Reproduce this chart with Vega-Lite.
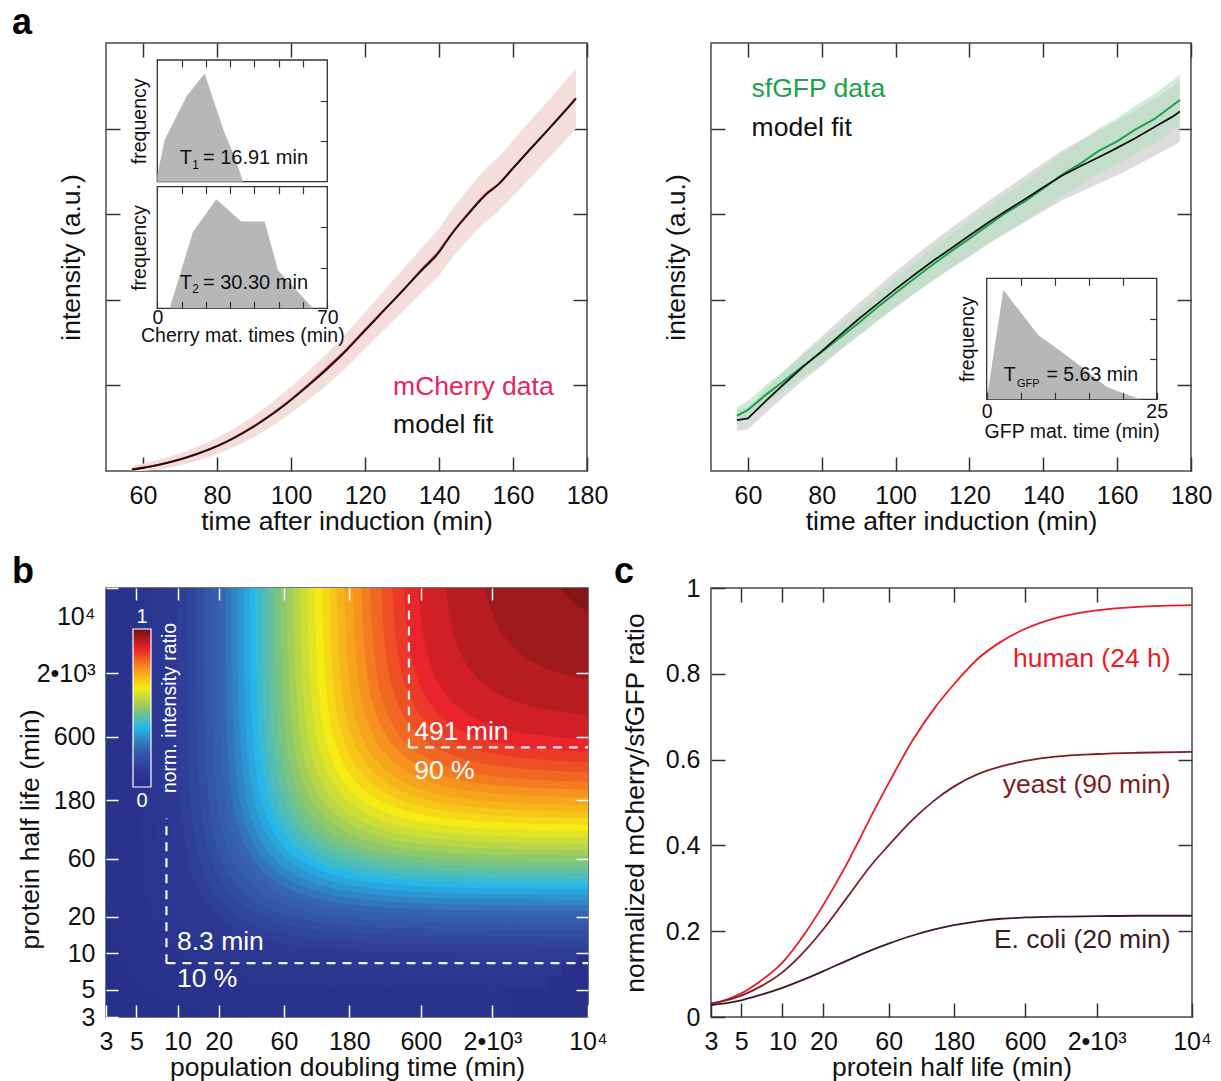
{
"$schema": "https://vega.github.io/schema/vega-lite/v6.json",
"background": "white",
"padding": {"left": 11, "top": 4, "right": 0, "bottom": 0},
"config": {
  "font": "Liberation Sans",
  "view": {"stroke": "#4a4a4a", "strokeWidth": 1.5},
  "title": {"font": "Liberation Sans", "fontSize": 36, "fontWeight": "bold", "anchor": "start", "frame": "group", "baseline": "alphabetic", "color": "#000000"},
  "axis": {"labelFont": "Liberation Sans", "titleFont": "Liberation Sans", "labelFontSize": 25, "titleFontSize": 26.5, "titleFontWeight": "normal", "labelColor": "#111111", "titleColor": "#111111", "tickColor": "#333333", "tickWidth": 1.5, "tickSize": -14, "grid": false, "domain": false, "labelPadding": 26, "titlePadding": 0, "labelFlush": false, "labelOverlap": false},
  "text": {"font": "Liberation Sans"}
},
"datasets": {
  "mch": [
    {"t":57,"m":0.3,"d":0.4,"lo":0,"hi":1.1},
    {"t":60,"m":0.7,"d":0.8,"lo":0,"hi":1.7},
    {"t":65,"m":1.6,"d":1.6,"lo":0.4,"hi":2.8},
    {"t":70,"m":2.7,"d":2.7,"lo":1.3,"hi":4.1},
    {"t":75,"m":4.1,"d":4.1,"lo":2.5,"hi":5.7},
    {"t":80,"m":5.8,"d":5.8,"lo":3.9,"hi":7.7},
    {"t":85,"m":7.9,"d":8.0,"lo":5.7,"hi":10.1},
    {"t":90,"m":10.4,"d":10.5,"lo":7.9,"hi":12.9},
    {"t":95,"m":13.3,"d":13.4,"lo":10.5,"hi":16.1},
    {"t":100,"m":16.6,"d":16.7,"lo":13.5,"hi":19.7},
    {"t":105,"m":20.2,"d":20.4,"lo":16.8,"hi":23.6},
    {"t":110,"m":24.0,"d":24.3,"lo":20.3,"hi":27.7},
    {"t":115,"m":28.2,"d":28.4,"lo":24.2,"hi":32.2},
    {"t":120,"m":32.8,"d":33.0,"lo":28.5,"hi":37.1},
    {"t":125,"m":37.4,"d":37.5,"lo":32.8,"hi":42.0},
    {"t":130,"m":42.0,"d":41.9,"lo":37.1,"hi":46.9},
    {"t":135,"m":46.6,"d":46.8,"lo":41.4,"hi":51.8},
    {"t":140,"m":51.1,"d":51.4,"lo":45.6,"hi":56.6},
    {"t":142,"m":53.6,"d":53.8,"lo":48.0,"hi":59.2},
    {"t":144,"m":56.0,"d":56.1,"lo":50.3,"hi":61.7},
    {"t":148,"m":60.1,"d":60.3,"lo":54.2,"hi":66.0},
    {"t":150,"m":62.1,"d":62.3,"lo":56.1,"hi":68.1},
    {"t":153,"m":64.8,"d":65.0,"lo":58.6,"hi":71.0},
    {"t":156,"m":66.9,"d":67.0,"lo":60.6,"hi":73.2},
    {"t":160,"m":70.7,"d":70.8,"lo":64.2,"hi":77.2},
    {"t":165,"m":75.5,"d":75.6,"lo":68.8,"hi":82.2},
    {"t":170,"m":80.2,"d":80.3,"lo":73.4,"hi":87.0},
    {"t":175,"m":85.0,"d":85.1,"lo":78.0,"hi":92.0},
    {"t":177,"m":87.0,"d":87.1,"lo":80.0,"hi":94.0}
  ],
  "gfp": [
    {"t":57,"m":11.9,"g":12.9,"ml":9.4,"mh":14.4,"gl":10.9,"gh":14.9},
    {"t":60,"m":12.3,"g":14.3,"ml":9.7,"mh":14.9,"gl":12.2,"gh":16.4},
    {"t":65,"m":16.5,"g":17.9,"ml":13.7,"mh":19.3,"gl":15.6,"gh":20.2},
    {"t":70,"m":20.5,"g":21.2,"ml":17.5,"mh":23.5,"gl":18.8,"gh":23.6},
    {"t":75,"m":24.4,"g":24.6,"ml":21.2,"mh":27.6,"gl":22.0,"gh":27.2},
    {"t":80,"m":28.0,"g":27.8,"ml":24.6,"mh":31.4,"gl":25.0,"gh":30.6},
    {"t":85,"m":31.8,"g":31.2,"ml":28.2,"mh":35.4,"gl":28.3,"gh":34.1},
    {"t":90,"m":35.5,"g":34.6,"ml":31.8,"mh":39.2,"gl":31.5,"gh":37.7},
    {"t":95,"m":39.0,"g":38.2,"ml":35.1,"mh":42.9,"gl":34.9,"gh":41.5},
    {"t":100,"m":42.5,"g":41.6,"ml":38.4,"mh":46.6,"gl":38.2,"gh":45.0},
    {"t":105,"m":45.8,"g":44.9,"ml":41.5,"mh":50.1,"gl":41.3,"gh":48.5},
    {"t":110,"m":49.0,"g":48.2,"ml":44.5,"mh":53.5,"gl":44.4,"gh":52.0},
    {"t":115,"m":52.0,"g":51.3,"ml":47.3,"mh":56.7,"gl":47.4,"gh":55.2},
    {"t":120,"m":55.0,"g":54.3,"ml":50.1,"mh":59.9,"gl":50.2,"gh":58.4},
    {"t":125,"m":58.0,"g":57.4,"ml":53.0,"mh":63.0,"gl":53.1,"gh":61.7},
    {"t":130,"m":60.8,"g":60.4,"ml":55.6,"mh":66.0,"gl":56.0,"gh":64.8},
    {"t":135,"m":63.5,"g":63.0,"ml":58.1,"mh":68.9,"gl":58.4,"gh":67.6},
    {"t":140,"m":66.3,"g":66.0,"ml":60.7,"mh":71.9,"gl":61.2,"gh":70.8},
    {"t":145,"m":69.0,"g":69.2,"ml":63.2,"mh":74.8,"gl":64.3,"gh":74.1},
    {"t":150,"m":71.2,"g":71.8,"ml":65.2,"mh":77.2,"gl":66.7,"gh":76.9},
    {"t":155,"m":73.3,"g":74.8,"ml":67.1,"mh":79.5,"gl":69.5,"gh":80.1},
    {"t":160,"m":75.5,"g":77.0,"ml":69.1,"mh":81.9,"gl":71.6,"gh":82.4},
    {"t":165,"m":77.8,"g":79.8,"ml":71.3,"mh":84.3,"gl":74.2,"gh":85.4},
    {"t":170,"m":80.3,"g":82.2,"ml":73.6,"mh":87.0,"gl":76.4,"gh":88.0},
    {"t":175,"m":82.8,"g":85.4,"ml":75.9,"mh":89.7,"gl":79.5,"gh":91.3},
    {"t":177,"m":84.0,"g":86.7,"ml":77.0,"mh":91.0,"gl":80.7,"gh":92.7}
  ],
  "h1": [{"m":0,"f":0.15},{"m":3,"f":1.03},{"m":12,"f":2.1},{"m":19.5,"f":2.67},{"m":23.6,"f":1.93},{"m":27.7,"f":1.2},{"m":31.8,"f":0.63},{"m":35.3,"f":0}],
  "h2": [{"m":5.1,"f":0},{"m":14.7,"f":1.89},{"m":24.3,"f":2.69},{"m":34.6,"f":2.14},{"m":44.2,"f":2.14},{"m":49.7,"f":0.94},{"m":64.1,"f":0}],
  "hg": [{"m":0,"f":0},{"m":2.45,"f":2.71},{"m":7.6,"f":1.59},{"m":11.3,"f":1.14},{"m":15.2,"f":0.64},{"m":17.6,"f":0.31},{"m":20.1,"f":0.15},{"m":22.6,"f":0}],
  "heat": [
    {"L":0,"x":[1,100000],"y":[1,1]},
    {"L":0.025,"x":[2.743,2.795,3.044,3.652,4.11,4.567,5.48,6.85,8.22,10.96,27.4,137,2740],"y":[2740,137,27.4,10.96,8.22,6.85,5.48,4.567,4.11,3.652,3.044,2.795,2.743]},
    {"L":0.05,"x":[5.005,5.1,5.555,6.665,7.5,8.335,10,12.5,15,20,50,250,5000],"y":[5000,250,50,20,15,12.5,10,8.335,7.5,6.665,5.555,5.1,5.005]},
    {"L":0.075,"x":[6.446,6.569,7.155,8.585,9.66,10.74,12.88,16.1,19.32,25.76,64.4,322,6440],"y":[6440,322,64.4,25.76,19.32,16.1,12.88,10.74,9.66,8.585,7.155,6.569,6.446]},
    {"L":0.1,"x":[8.308,8.466,9.221,11.06,12.45,13.84,16.6,20.75,24.9,33.2,83,415,8300],"y":[8300,415,83,33.2,24.9,20.75,16.6,13.84,12.45,11.06,9.221,8.466,8.308]},
    {"L":0.125,"x":[10.01,10.2,11.11,13.33,15,16.67,20,25,30,40,100,500,10000],"y":[10000,500,100,40,30,25,20,16.67,15,13.33,11.11,10.2,10.01]},
    {"L":0.15,"x":[11.66,11.88,12.94,15.53,17.48,19.42,23.3,29.13,34.95,46.6,116.5,582.5,11650],"y":[11650,582.5,116.5,46.6,34.95,29.13,23.3,19.42,17.48,15.53,12.94,11.88,11.66]},
    {"L":0.175,"x":[13.59,13.85,15.09,18.1,20.37,22.64,27.16,33.95,40.74,54.32,135.8,679,13580],"y":[13580,679,135.8,54.32,40.74,33.95,27.16,22.64,20.37,18.1,15.09,13.85,13.59]},
    {"L":0.2,"x":[15.52,15.81,17.22,20.66,23.25,25.84,31,38.75,46.5,62,155,775,15500],"y":[15500,775,155,62,46.5,38.75,31,25.84,23.25,20.66,17.22,15.81,15.52]},
    {"L":0.225,"x":[17.62,17.95,19.55,23.46,26.4,29.34,35.2,44,52.8,70.4,176,880,17600],"y":[17600,880,176,70.4,52.8,44,35.2,29.34,26.4,23.46,19.55,17.95,17.62]},
    {"L":0.25,"x":[20.02,20.4,22.22,26.66,30,33.34,40,50,60,80,200,1000,20000],"y":[20000,1000,200,80,60,50,40,33.34,30,26.66,22.22,20.4,20.02]},
    {"L":0.275,"x":[22.22,22.64,24.66,29.59,33.3,37.01,44.4,55.5,66.6,88.8,222,1110,22200],"y":[22200,1110,222,88.8,66.6,55.5,44.4,37.01,33.3,29.59,24.66,22.64,22.22]},
    {"L":0.3,"x":[24.72,25.19,27.44,32.93,37.05,41.17,49.4,61.75,74.1,98.8,247,1235,24700],"y":[24700,1235,247,98.8,74.1,61.75,49.4,41.17,37.05,32.93,27.44,25.19,24.72]},
    {"L":0.325,"x":[27.43,27.95,30.44,36.52,41.1,45.68,54.8,68.5,82.2,109.6,274,1370,27400],"y":[27400,1370,274,109.6,82.2,68.5,54.8,45.68,41.1,36.52,30.44,27.95,27.43]},
    {"L":0.35,"x":[30.33,30.91,33.66,40.39,45.45,50.51,60.6,75.75,90.9,121.2,303,1515,30300],"y":[30300,1515,303,121.2,90.9,75.75,60.6,50.51,45.45,40.39,33.66,30.91,30.33]},
    {"L":0.375,"x":[33.53,34.17,37.22,44.66,50.25,55.84,67,83.75,100.5,134,335,1675,33500],"y":[33500,1675,335,134,100.5,83.75,67,55.84,50.25,44.66,37.22,34.17,33.53]},
    {"L":0.4,"x":[37.04,37.74,41.11,49.32,55.5,61.68,74,92.5,111,148,370,1850,37000],"y":[37000,1850,370,148,111,92.5,74,61.68,55.5,49.32,41.11,37.74,37.04]},
    {"L":0.425,"x":[40.84,41.62,45.33,54.39,61.2,68.01,81.6,102,122.4,163.2,408,2040,40800],"y":[40800,2040,408,163.2,122.4,102,81.6,68.01,61.2,54.39,45.33,41.62,40.84]},
    {"L":0.45,"x":[45.45,46.31,50.44,60.52,68.1,75.68,90.8,113.5,136.2,181.6,454,2270,45400],"y":[45400,2270,454,181.6,136.2,113.5,90.8,75.68,68.1,60.52,50.44,46.31,45.45]},
    {"L":0.475,"x":[50.45,51.41,55.99,67.18,75.6,84.02,100.8,126,151.2,201.6,504,2520,50400],"y":[50400,2520,504,201.6,151.2,126,100.8,84.02,75.6,67.18,55.99,51.41,50.45]},
    {"L":0.5,"x":[56.06,57.12,62.22,74.65,84,93.35,112,140,168,224,560,2800,56000],"y":[56000,2800,560,224,168,140,112,93.35,84,74.65,62.22,57.12,56.06]},
    {"L":0.525,"x":[62.66,63.85,69.55,83.45,93.9,104.4,125.2,156.5,187.8,250.4,626,3130,62600],"y":[62600,3130,626,250.4,187.8,156.5,125.2,104.4,93.9,83.45,69.55,63.85,62.66]},
    {"L":0.55,"x":[70.07,71.4,77.77,93.31,105,116.7,140,175,210,280,700,3500,70000],"y":[70000,3500,700,280,210,175,140,116.7,105,93.31,77.77,71.4,70.07]},
    {"L":0.575,"x":[78.28,79.76,86.88,104.2,117.3,130.4,156.4,195.5,234.6,312.8,782,3910,78200],"y":[78200,3910,782,312.8,234.6,195.5,156.4,130.4,117.3,104.2,86.88,79.76,78.28]},
    {"L":0.6,"x":[88.39,90.07,98.1,117.7,132.5,147.2,176.6,220.8,264.9,353.2,883,4415,88300],"y":[88300,4415,883,353.2,264.9,220.8,176.6,147.2,132.5,117.7,98.1,90.07,88.39]},
    {"L":0.625,"x":[100.1,102,111.1,133.3,150,166.7,200,250,300,400,1000,5000,100000],"y":[100000,5000,1000,400,300,250,200,166.7,150,133.3,111.1,102,100.1]},
    {"L":0.65,"x":[112.9,115.1,125.3,150.4,169.2,188,225.6,282,338.4,451.2,1128,5640,112800],"y":[112800,5640,1128,451.2,338.4,282,225.6,188,169.2,150.4,125.3,115.1,112.9]},
    {"L":0.675,"x":[127.3,129.7,141.3,169.6,190.8,212,254.4,318,381.6,508.8,1272,6360,127200],"y":[127200,6360,1272,508.8,381.6,318,254.4,212,190.8,169.6,141.3,129.7,127.3]},
    {"L":0.7,"x":[143.6,146.4,159.4,191.3,215.3,239.2,287,358.8,430.5,574,1435,7175,143500],"y":[143500,7175,1435,574,430.5,358.8,287,239.2,215.3,191.3,159.4,146.4,143.6]},
    {"L":0.725,"x":[162.8,165.9,180.6,216.7,243.9,271.1,325.2,406.5,487.8,650.4,1626,8130,162600],"y":[162600,8130,1626,650.4,487.8,406.5,325.2,271.1,243.9,216.7,180.6,165.9,162.8]},
    {"L":0.75,"x":[187.9,191.5,208.5,250.2,281.6,312.9,375.4,469.3,563.1,750.8,1877,9385,187700],"y":[187700,9385,1877,750.8,563.1,469.3,375.4,312.9,281.6,250.2,208.5,191.5,187.9]},
    {"L":0.775,"x":[216.9,221,240.7,288.9,325.1,361.2,433.4,541.8,650.1,866.8,2167,10835,216700],"y":[216700,10835,2167,866.8,650.1,541.8,433.4,361.2,325.1,288.9,240.7,221,216.9]},
    {"L":0.8,"x":[250.3,255,277.8,333.3,375,416.8,500,625,750,1000,2500,12500,250000],"y":[250000,12500,2500,1000,750,625,500,416.8,375,333.3,277.8,255,250.3]},
    {"L":0.825,"x":[299.8,305.5,332.7,399.2,449.3,499.3,599,748.8,898.5,1198,2995,14975,299500],"y":[299500,14975,2995,1198,898.5,748.8,599,499.3,449.3,399.2,332.7,305.5,299.8]},
    {"L":0.85,"x":[359.2,366,398.6,478.3,538.2,598.1,717.6,897,1076,1435,3588,17940,358800],"y":[358800,17940,3588,1435,1076,897,717.6,598.1,538.2,478.3,398.6,366,359.2]},
    {"L":0.875,"x":[431.3,439.5,478.7,574.4,646.4,718.3,861.8,1077,1293,1724,4309,21545,430900],"y":[430900,21545,4309,1724,1293,1077,861.8,718.3,646.4,574.4,478.7,439.5,431.3]},
    {"L":0.9,"x":[544.3,554.7,604.2,724.9,815.7,906.5,1088,1360,1631,2175,5438,27190,543800],"y":[543800,27190,5438,2175,1631,1360,1088,906.5,815.7,724.9,604.2,554.7,544.3]},
    {"L":0.925,"x":[837.4,853.3,929.5,1115,1255,1395,1673,2092,2510,3346,8366,41830,836600],"y":[836600,41830,8366,3346,2510,2092,1673,1395,1255,1115,929.5,853.3,837.4]},
    {"L":0.95,"x":[1518,1546,1684,2021,2274,2527,3032,3790,4548,6064,15160,75800,1516000],"y":[1516000,75800,15160,6064,4548,3790,3032,2527,2274,2021,1684,1546,1518]},
    {"L":0.975,"x":[3877,3950,4303,5163,5810,6456,7746,9683,11619,15492,38730,193650,3873000],"y":[3873000,193650,38730,15492,11619,9683,7746,6456,5810,5163,4303,3950,3877]}
  ],
  "dash": [
    {"a":8.3,"a2":8.3,"b":8.3,"b2":128},
    {"a":8.3,"a2":10000,"b":8.3,"b2":8.3},
    {"a":491,"a2":491,"b":491,"b2":10000},
    {"a":491,"a2":10000,"b":491,"b2":491}
  ],
  "btxt": [
    {"a":9.9,"b":12.3,"s":"8.3 min"},
    {"a":9.9,"b":6.2,"s":"10 %"},
    {"a":537,"b":656,"s":"491 min"},
    {"a":537,"b":313,"s":"90 %"}
  ],
  "cc": [
    {"s":"human","h":[3,4,5,7,10,15,20,30,45,60,90,130,180,270,400,600,1000,2000,4000,10000],"r":[0.031,0.042,0.055,0.085,0.127,0.2,0.262,0.36,0.47,0.545,0.645,0.72,0.775,0.835,0.875,0.905,0.93,0.948,0.956,0.96]},
    {"s":"yeast","h":[3,4,5,7,10,15,20,30,45,60,90,130,180,270,400,600,1000,2000,4000,10000],"r":[0.031,0.04,0.05,0.072,0.104,0.158,0.205,0.28,0.355,0.4,0.46,0.505,0.537,0.566,0.584,0.597,0.607,0.613,0.616,0.618]},
    {"s":"E. coli","h":[3,4,5,7,10,15,20,30,45,60,90,130,180,270,400,600,1000,2000,4000,10000],"r":[0.028,0.033,0.039,0.052,0.068,0.09,0.107,0.132,0.156,0.171,0.19,0.204,0.214,0.223,0.229,0.232,0.234,0.235,0.236,0.236]}
  ],
  "ctxt": [
    {"s":"human","h":6970,"r":0.834,"lab":"human (24 h)"},
    {"s":"yeast","h":6970,"r":0.54,"lab":"yeast (90 min)"},
    {"s":"E. coli","h":6970,"r":0.179,"lab":"E. coli (20 min)"}
  ]
},
"columns": 2,
"align": "each",
"bounds": "flush",
"spacing": {"row": 117, "column": 123},
"concat": [
  {
    "width": 481, "height": 428,
    "title": {"text": "a", "dx": -94, "offset": 0},
    "layer": [
      {
        "layer": [
          {"data": {"name": "mch"}, "mark": {"type": "area", "color": "#f4dedb", "clip": true},
           "encoding": {
             "x": {"field": "t", "type": "quantitative", "scale": {"domain": [50, 180], "nice": false, "zero": false}, "axis": {"orient": "bottom", "values": [60, 80, 100, 120, 140, 160, 180], "title": "time after induction (min)"}},
             "y": {"field": "lo", "type": "quantitative", "scale": {"domain": [0, 100], "nice": false, "zero": false}, "axis": {"orient": "left", "values": [20, 40, 60, 80], "labels": false, "title": "intensity (a.u.)", "titlePadding": 20}},
             "y2": {"field": "hi"}}},
          {"data": {"name": "mch"}, "mark": {"type": "line", "color": "#e41e2b", "strokeWidth": 2, "interpolate": "monotone"},
           "encoding": {
             "x": {"field": "t", "type": "quantitative", "axis": {"orient": "top", "values": [60, 80, 100, 120, 140, 160, 180], "labels": false, "title": null}},
             "y": {"field": "d", "type": "quantitative", "axis": {"orient": "right", "values": [20, 40, 60, 80], "labels": false, "title": null}}}},
          {"data": {"name": "mch"}, "mark": {"type": "line", "color": "#111111", "strokeWidth": 1.8, "interpolate": "monotone"},
           "encoding": {
             "x": {"field": "t", "type": "quantitative", "axis": null},
             "y": {"field": "m", "type": "quantitative", "axis": null}}},
          {"data": {"values": [{"t": 127.6, "v": 19.7, "s": "mCherry data"}]}, "mark": {"type": "text", "align": "left", "baseline": "middle", "fontSize": 26.5, "color": "#e8245a"},
           "encoding": {"x": {"field": "t", "type": "quantitative", "axis": null}, "y": {"field": "v", "type": "quantitative", "axis": null}, "text": {"field": "s"}}},
          {"data": {"values": [{"t": 127.6, "v": 10.7, "s": "model fit"}]}, "mark": {"type": "text", "align": "left", "baseline": "middle", "fontSize": 26.5, "color": "#111111"},
           "encoding": {"x": {"field": "t", "type": "quantitative", "axis": null}, "y": {"field": "v", "type": "quantitative", "axis": null}, "text": {"field": "s"}}}
        ],
        "resolve": {"axis": {"x": "independent", "y": "independent"}}
      },
      {
        "layer": [
          {"data": {"values": [{}]}, "mark": {"type": "rect", "fill": "white", "stroke": "#333333", "strokeWidth": 1.3},
           "encoding": {
             "x": {"datum": 0, "type": "quantitative", "scale": {"domain": [0, 70], "range": [51.3, 221.3], "nice": false, "zero": false}, "axis": {"orient": "top", "offset": -17, "values": [10, 20, 30, 40, 50, 60], "labels": false, "title": null, "tickSize": -7, "tickWidth": 1.2, "zindex": 1}},
             "x2": {"datum": 70},
             "y": {"datum": 0, "type": "quantitative", "scale": {"domain": [0, 3], "range": [138.7, 17], "nice": false, "zero": false}, "axis": {"orient": "right", "offset": -259.7, "values": [1, 2], "labels": false, "title": null, "tickSize": -7, "tickWidth": 1.2, "zindex": 1}},
             "y2": {"datum": 3}}},
          {"data": {"name": "h1"}, "mark": {"type": "area", "color": "#b6b7b9"},
           "encoding": {
             "x": {"field": "m", "type": "quantitative", "axis": null},
             "y": {"field": "f", "type": "quantitative", "axis": {"orient": "left", "offset": -51.3, "ticks": false, "labels": false, "title": "frequency", "titleFontSize": 19.5, "titlePadding": 8, "zindex": 1}}}},
          {"data": {"values": [{"x": 9.2, "y": 0.58, "s": "T"}, {"x": 18.8, "y": 0.58, "s": "= 16.91 min"}]}, "mark": {"type": "text", "align": "left", "baseline": "middle", "fontSize": 20, "color": "#111111"},
           "encoding": {"x": {"field": "x", "type": "quantitative", "axis": null}, "y": {"field": "y", "type": "quantitative", "axis": null}, "text": {"field": "s"}}},
          {"data": {"values": [{"x": 14.4, "y": 0.42, "s": "1"}]}, "mark": {"type": "text", "align": "left", "baseline": "middle", "fontSize": 12, "color": "#111111"},
           "encoding": {"x": {"field": "x", "type": "quantitative", "axis": null}, "y": {"field": "y", "type": "quantitative", "axis": null}, "text": {"field": "s"}}}
        ],
        "resolve": {"axis": {"x": "independent", "y": "independent"}}
      },
      {
        "layer": [
          {"data": {"values": [{}]}, "mark": {"type": "rect", "fill": "white", "stroke": "#333333", "strokeWidth": 1.3},
           "encoding": {
             "x": {"datum": 0, "type": "quantitative", "scale": {"domain": [0, 70], "range": [51.3, 221.3], "nice": false, "zero": false}, "axis": {"orient": "top", "offset": -143.7, "values": [10, 20, 30, 40, 50, 60], "labels": false, "title": null, "tickSize": -7, "tickWidth": 1.2, "zindex": 1}},
             "x2": {"datum": 70},
             "y": {"datum": 0, "type": "quantitative", "scale": {"domain": [0, 3], "range": [265.3, 143.7], "nice": false, "zero": false}, "axis": {"orient": "right", "offset": -259.7, "values": [1, 2], "labels": false, "title": null, "tickSize": -7, "tickWidth": 1.2, "zindex": 1}},
             "y2": {"datum": 3}}},
          {"data": {"name": "h2"}, "mark": {"type": "area", "color": "#b6b7b9"},
           "encoding": {
             "x": {"field": "m", "type": "quantitative", "axis": {"orient": "bottom", "offset": -162.7, "values": [0, 10, 20, 30, 40, 50, 60, 70], "labelExpr": "datum.value == 0 || datum.value == 70 ? '' + datum.value : ''", "title": "Cherry mat. times (min)", "tickSize": -7, "tickWidth": 1.2, "labelPadding": 7, "labelFontSize": 19.5, "titleFontSize": 19.5, "titlePadding": 0, "zindex": 1}},
             "y": {"field": "f", "type": "quantitative", "axis": {"orient": "left", "offset": -51.3, "ticks": false, "labels": false, "title": "frequency", "titleFontSize": 19.5, "titlePadding": 8, "zindex": 1}}}},
          {"data": {"values": [{"x": 9.2, "y": 0.63, "s": "T"}, {"x": 18.8, "y": 0.63, "s": "= 30.30 min"}]}, "mark": {"type": "text", "align": "left", "baseline": "middle", "fontSize": 20, "color": "#111111"},
           "encoding": {"x": {"field": "x", "type": "quantitative", "axis": null}, "y": {"field": "y", "type": "quantitative", "axis": null}, "text": {"field": "s"}}},
          {"data": {"values": [{"x": 14.4, "y": 0.47, "s": "2"}]}, "mark": {"type": "text", "align": "left", "baseline": "middle", "fontSize": 12, "color": "#111111"},
           "encoding": {"x": {"field": "x", "type": "quantitative", "axis": null}, "y": {"field": "y", "type": "quantitative", "axis": null}, "text": {"field": "s"}}}
        ],
        "resolve": {"axis": {"x": "independent", "y": "independent"}}
      }
    ],
    "resolve": {"scale": {"x": "independent", "y": "independent"}, "axis": {"x": "independent", "y": "independent"}}
  },
  {
    "width": 480, "height": 428,
    "layer": [
      {
        "layer": [
          {"data": {"name": "gfp"}, "mark": {"type": "area", "color": "#d3d3d3", "opacity": 0.8},
           "encoding": {
             "x": {"field": "t", "type": "quantitative", "scale": {"domain": [50, 180], "nice": false, "zero": false}, "axis": {"orient": "bottom", "values": [60, 80, 100, 120, 140, 160, 180], "title": "time after induction (min)"}},
             "y": {"field": "ml", "type": "quantitative", "scale": {"domain": [0, 100], "nice": false, "zero": false}, "axis": {"orient": "left", "values": [20, 40, 60, 80], "labels": false, "title": "intensity (a.u.)", "titlePadding": 20}},
             "y2": {"field": "mh"}}},
          {"data": {"name": "gfp"}, "mark": {"type": "area", "color": "#b5e0c0", "opacity": 0.6},
           "encoding": {
             "x": {"field": "t", "type": "quantitative", "axis": {"orient": "top", "values": [60, 80, 100, 120, 140, 160, 180], "labels": false, "title": null}},
             "y": {"field": "gl", "type": "quantitative", "axis": {"orient": "right", "values": [20, 40, 60, 80], "labels": false, "title": null}},
             "y2": {"field": "gh"}}},
          {"data": {"name": "gfp"}, "mark": {"type": "line", "color": "#1ba24c", "strokeWidth": 2},
           "encoding": {"x": {"field": "t", "type": "quantitative", "axis": null}, "y": {"field": "g", "type": "quantitative", "axis": null}}},
          {"data": {"name": "gfp"}, "mark": {"type": "line", "color": "#111111", "strokeWidth": 1.8},
           "encoding": {"x": {"field": "t", "type": "quantitative", "axis": null}, "y": {"field": "m", "type": "quantitative", "axis": null}}},
          {"data": {"values": [{"t": 61.0, "v": 89.2, "s": "sfGFP data"}]}, "mark": {"type": "text", "align": "left", "baseline": "middle", "fontSize": 26.5, "color": "#1ba24c"},
           "encoding": {"x": {"field": "t", "type": "quantitative", "axis": null}, "y": {"field": "v", "type": "quantitative", "axis": null}, "text": {"field": "s"}}},
          {"data": {"values": [{"t": 61.0, "v": 80.1, "s": "model fit"}]}, "mark": {"type": "text", "align": "left", "baseline": "middle", "fontSize": 26.5, "color": "#111111"},
           "encoding": {"x": {"field": "t", "type": "quantitative", "axis": null}, "y": {"field": "v", "type": "quantitative", "axis": null}, "text": {"field": "s"}}}
        ],
        "resolve": {"axis": {"x": "independent", "y": "independent"}}
      },
      {
        "layer": [
          {"data": {"values": [{}]}, "mark": {"type": "rect", "fill": "white", "stroke": "#333333", "strokeWidth": 1.3},
           "encoding": {
             "x": {"datum": 0, "type": "quantitative", "scale": {"domain": [0, 25], "range": [275.7, 445.7], "nice": false, "zero": false}, "axis": {"orient": "top", "offset": -235.3, "values": [5, 10, 15, 20], "labels": false, "title": null, "tickSize": -7, "tickWidth": 1.2, "zindex": 1}},
             "x2": {"datum": 25},
             "y": {"datum": 0, "type": "quantitative", "scale": {"domain": [0, 3], "range": [356.3, 235.3], "nice": false, "zero": false}, "axis": {"orient": "right", "offset": -34.3, "values": [1, 2], "labels": false, "title": null, "tickSize": -7, "tickWidth": 1.2, "zindex": 1}},
             "y2": {"datum": 3}}},
          {"data": {"name": "hg"}, "mark": {"type": "area", "color": "#b6b7b9"},
           "encoding": {
             "x": {"field": "m", "type": "quantitative", "axis": {"orient": "bottom", "offset": -71.7, "values": [0, 5, 10, 15, 20, 25], "labelExpr": "datum.value == 0 || datum.value == 25 ? '' + datum.value : ''", "title": "GFP mat. time (min)", "tickSize": -7, "tickWidth": 1.2, "labelPadding": 10, "labelFontSize": 19.5, "titleFontSize": 19.5, "titlePadding": 2, "zindex": 1}},
             "y": {"field": "f", "type": "quantitative", "axis": {"orient": "left", "offset": -275.7, "ticks": false, "labels": false, "title": "frequency", "titleFontSize": 19.5, "titlePadding": 9, "zindex": 1}}}},
          {"data": {"values": [{"x": 2.5, "y": 0.6, "s": "T"}, {"x": 8.8, "y": 0.6, "s": "= 5.63 min"}]}, "mark": {"type": "text", "align": "left", "baseline": "middle", "fontSize": 19.5, "color": "#111111"},
           "encoding": {"x": {"field": "x", "type": "quantitative", "axis": null}, "y": {"field": "y", "type": "quantitative", "axis": null}, "text": {"field": "s"}}},
          {"data": {"values": [{"x": 4.45, "y": 0.37, "s": "GFP"}]}, "mark": {"type": "text", "align": "left", "baseline": "middle", "fontSize": 11, "color": "#111111"},
           "encoding": {"x": {"field": "x", "type": "quantitative", "axis": null}, "y": {"field": "y", "type": "quantitative", "axis": null}, "text": {"field": "s"}}}
        ],
        "resolve": {"axis": {"x": "independent", "y": "independent"}}
      }
    ],
    "resolve": {"scale": {"x": "independent", "y": "independent"}, "axis": {"x": "independent", "y": "independent"}}
  },
  {
    "width": 482, "height": 429,
    "title": {"text": "b", "dx": -94, "offset": -4},
    "layer": [
      {
        "layer": [
          {"data": {"name": "heat"}, "transform": [{"flatten": ["x", "y"]}],
           "mark": {"type": "area", "interpolate": "monotone", "clip": true},
           "encoding": {
             "x": {"field": "x", "type": "quantitative", "scale": {"type": "log", "domain": [3, 10000], "nice": false}, "axis": {"orient": "bottom", "values": [3, 5, 10, 20, 60, 180, 600, 2000, 10000], "labelExpr": "datum.value == 2000 ? '2•10³' : datum.value == 10000 ? '10⁴' : '' + datum.value", "title": "population doubling time (min)", "tickColor": "#ffffff", "tickSize": -12, "labelPadding": 24, "zindex": 1}},
             "y": {"field": "y", "type": "quantitative", "scale": {"type": "log", "domain": [3, 10000], "nice": false}, "axis": {"orient": "left", "values": [3, 5, 10, 20, 60, 180, 600, 2000, 10000], "labelExpr": "datum.value == 2000 ? '2•10³' : datum.value == 10000 ? '10⁴' : '' + datum.value", "title": "protein half life (min)", "tickColor": "#ffffff", "tickSize": -12, "labelPadding": 23, "titleX": -76, "titleY": 241, "titleBaseline": "middle", "titleAlign": "center", "titleAngle": 270, "zindex": 1, "labelOffset": {"condition": {"test": "datum.value == 10000", "value": 28}, "value": 0}}},
             "y2": {"datum": 10000},
             "color": {"field": "L", "type": "quantitative",
               "scale": {"domain": [0, 0.11, 0.25, 0.375, 0.5, 0.625, 0.75, 0.875, 1], "range": ["#27308a", "#2e3a96", "#3565b0", "#27b6e9", "#8dc86a", "#f6eb14", "#f6921e", "#e9242a", "#6b1113"], "interpolate": "rgb"},
               "legend": null}
           }},
          {"data": {"name": "dash"}, "mark": {"type": "rule", "color": "#f2f2f2", "strokeWidth": 2.2, "strokeDash": [9, 7]},
           "encoding": {
             "x": {"field": "a", "type": "quantitative", "axis": {"orient": "top", "values": [5, 10, 20, 60, 180, 600, 2000], "labels": false, "title": null, "tickColor": "#ffffff", "tickSize": -12, "zindex": 1}},
             "x2": {"field": "a2"},
             "y": {"field": "b", "type": "quantitative", "axis": {"orient": "right", "values": [5, 10, 20, 60, 180, 600, 2000], "labels": false, "title": null, "tickColor": "#ffffff", "tickSize": -12, "zindex": 1}},
             "y2": {"field": "b2"}}},
          {"data": {"name": "btxt"}, "mark": {"type": "text", "align": "left", "baseline": "middle", "fontSize": 26.5, "color": "#ffffff"},
           "encoding": {"x": {"field": "a", "type": "quantitative", "axis": null}, "y": {"field": "b", "type": "quantitative", "axis": null}, "text": {"field": "s"}}}
        ],
        "resolve": {"axis": {"x": "independent", "y": "independent"}}
      },
      {
        "layer": [
          {"data": {"values": [{}]},
           "mark": {"type": "rect", "stroke": "#ffffff", "strokeWidth": 1.2,
             "fill": {"gradient": "linear", "x1": 0, "y1": 1, "x2": 0, "y2": 0, "stops": [{"offset": 0, "color": "#27308a"}, {"offset": 0.11, "color": "#2e3a96"}, {"offset": 0.25, "color": "#3565b0"}, {"offset": 0.375, "color": "#27b6e9"}, {"offset": 0.5, "color": "#8dc86a"}, {"offset": 0.625, "color": "#f6eb14"}, {"offset": 0.75, "color": "#f6921e"}, {"offset": 0.875, "color": "#e9242a"}, {"offset": 1, "color": "#6b1113"}]}},
           "encoding": {
             "x": {"datum": 0, "type": "quantitative", "scale": {"domain": [0, 1], "range": [27, 45], "nice": false, "zero": false}, "axis": null},
             "x2": {"datum": 1},
             "y": {"datum": 0, "type": "quantitative", "scale": {"domain": [0, 1], "range": [199, 41], "nice": false, "zero": false}, "axis": null},
             "y2": {"datum": 1}}},
          {"data": {"values": [{"x": 0.5, "y": 1, "s": "1"}]}, "mark": {"type": "text", "align": "center", "baseline": "bottom", "dy": -2, "fontSize": 20, "color": "#ffffff"},
           "encoding": {"x": {"field": "x", "type": "quantitative", "axis": null}, "y": {"field": "y", "type": "quantitative", "axis": null}, "text": {"field": "s"}}},
          {"data": {"values": [{"x": 0.5, "y": 0, "s": "0"}]}, "mark": {"type": "text", "align": "center", "baseline": "top", "dy": 4, "fontSize": 20, "color": "#ffffff"},
           "encoding": {"x": {"field": "x", "type": "quantitative", "axis": null}, "y": {"field": "y", "type": "quantitative", "axis": null}, "text": {"field": "s"}}},
          {"data": {"values": [{"x": 2.05, "y": 0.5, "s": "norm. intensity ratio"}]}, "mark": {"type": "text", "align": "center", "baseline": "middle", "angle": 270, "fontSize": 19.5, "color": "#ffffff"},
           "encoding": {"x": {"field": "x", "type": "quantitative", "axis": null}, "y": {"field": "y", "type": "quantitative", "axis": null}, "text": {"field": "s"}}}
        ]
      }
    ],
    "resolve": {"scale": {"x": "independent", "y": "independent"}, "axis": {"x": "independent", "y": "independent"}}
  },
  {
    "width": 481, "height": 429,
    "title": {"text": "c", "dx": -97, "offset": -15},
    "layer": [
      {"data": {"name": "cc"}, "transform": [{"flatten": ["h", "r"]}],
       "mark": {"type": "line", "interpolate": "monotone", "strokeWidth": 1.8},
       "encoding": {
         "x": {"field": "h", "type": "quantitative", "scale": {"type": "log", "domain": [3, 10000], "nice": false}, "axis": {"orient": "bottom", "values": [3, 5, 10, 20, 60, 180, 600, 2000, 10000], "labelExpr": "datum.value == 2000 ? '2•10³' : datum.value == 10000 ? '10⁴' : '' + datum.value", "title": "protein half life (min)"}},
         "y": {"field": "r", "type": "quantitative", "scale": {"domain": [0, 1], "nice": false, "zero": false}, "axis": {"orient": "left", "values": [0, 0.2, 0.4, 0.6, 0.8, 1], "labelExpr": "'' + datum.value", "title": "normalized mCherry/sfGFP ratio", "labelPadding": 25, "titlePadding": 16}},
         "color": {"field": "s", "type": "nominal", "scale": {"domain": ["human", "yeast", "E. coli"], "range": ["#ec1c24", "#801d24", "#3a1c1d"]}, "legend": null}}},
      {"data": {"name": "ctxt"}, "mark": {"type": "text", "align": "right", "baseline": "middle", "fontSize": 26.5},
       "encoding": {
         "x": {"field": "h", "type": "quantitative", "axis": {"orient": "top", "values": [5, 10, 20, 60, 180, 600, 2000], "labels": false, "title": null}},
         "y": {"field": "r", "type": "quantitative", "axis": {"orient": "right", "values": [0.2, 0.4, 0.6, 0.8], "labels": false, "title": null}},
         "color": {"field": "s", "type": "nominal", "legend": null},
         "text": {"field": "lab"}}}
    ],
    "resolve": {"axis": {"x": "independent", "y": "independent"}}
  }
]
}
